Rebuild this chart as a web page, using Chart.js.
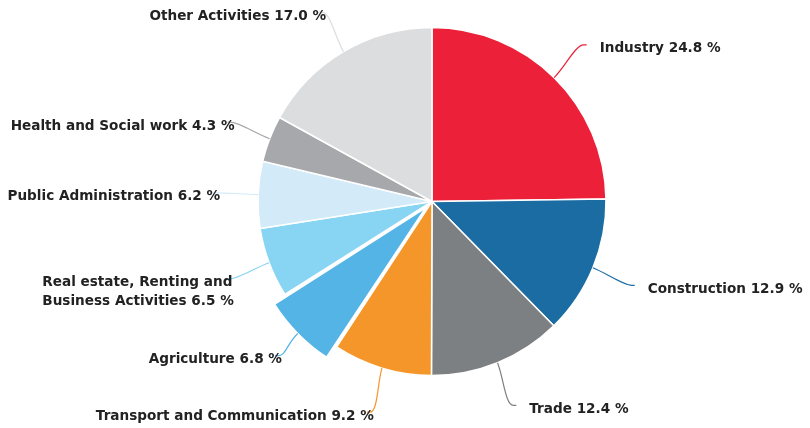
<!DOCTYPE html>
<html>
<head>
<meta charset="utf-8">
<script src="https://cdn.jsdelivr.net/npm/chart.js@4.4.0/dist/chart.umd.min.js"></script>
<style>
html, body { margin: 0; padding: 0; background: #fff; }
#wrap { width: 810px; height: 428px; }
</style>
</head>
<body>
<div id="wrap"><canvas id="chart" width="810" height="428"></canvas></div>
<script>
'use strict';

// employment share by activity, clockwise from 12 o'clock
var categories = [
    'Industry',
    'Construction',
    'Trade',
    'Transport and Communication',
    'Agriculture',
    ['Real estate, Renting and', 'Business Activities'],
    'Public Administration',
    'Health and Social work',
    'Other Activities'
];
var shares = [24.8, 12.9, 12.4, 9.2, 6.8, 6.5, 6.2, 4.3, 17.0];
var sliceColors = [
    '#ec2038', '#1c6ca4', '#7d8083', '#f5962a', '#55b4e6',
    '#87d4f3', '#d3ebf8', '#a7a8ab', '#dcddde'
];
var explodedSlice = 'Agriculture';

/**
 * Draws outside labels with curved connectors, Highcharts style.
 */
var sliceLabels = {
    id: 'sliceLabels',
    afterDatasetsDraw: function(chart, args, opts) {
        var ctx = chart.ctx,
            meta = chart.getDatasetMeta(0),
            values = chart.data.datasets[0].data;

        ctx.save();
        ctx.font = opts.font;
        ctx.textBaseline = 'middle';
        ctx.textAlign = 'left';
        meta.data.forEach(function(arc, i) {
            var p = arc.getProps(['x', 'y', 'startAngle', 'endAngle', 'outerRadius', 'circumference'], true),
                mid = (p.startAngle + p.endAngle) / 2,
                cos = Math.cos(mid),
                sin = Math.sin(mid),
                shift = (arc.options.offset || 0) / 4,
                fix = 1 - Math.sin(Math.min(Math.PI, p.circumference)),
                r0 = p.outerRadius + shift + shift * fix,
                sx = p.x + cos * r0,
                sy = p.y + sin * r0,
                qx = p.x + cos * (r0 + opts.bend),
                qy = p.y + sin * (r0 + opts.bend),
                ex = p.x + cos * opts.distX,
                ey = p.y + sin * opts.distY,
                right = cos >= 0,
                dir = right ? 1 : -1,
                name = chart.data.labels[i],
                lines = Array.isArray(name) ? name.slice() : [name],
                blockW, left;

            lines[lines.length - 1] += ' ' + values[i].toFixed(1) + ' %';
            blockW = Math.max.apply(null, lines.map(function(l) { return ctx.measureText(l).width; }));
            left = right ? ex + opts.padRight : ex + opts.padLeft - blockW;

            ctx.strokeStyle = arc.options.backgroundColor;
            ctx.lineWidth = 1.2;
            ctx.beginPath();
            ctx.moveTo(sx, sy);
            ctx.bezierCurveTo(qx, qy, ex - dir * 8, ey, ex, ey);
            ctx.lineTo(ex + dir * 3, ey);
            ctx.stroke();

            ctx.fillStyle = opts.color;
            lines.forEach(function(line, k) {
                ctx.fillText(line, left, ey + opts.dy + k * opts.lineHeight);
            });
        });
        ctx.restore();
    }
};

var chart = new Chart(document.getElementById('chart'), {
    type: 'pie',
    data: {
        labels: categories,
        datasets: [{
            data: shares,
            backgroundColor: sliceColors,
            borderColor: '#ffffff',
            borderWidth: 1.5,
            offset: categories.map(function(c) { return c === explodedSlice ? 36 : 0; })
        }]
    },
    options: {
        responsive: false,
        animation: false,
        events: [],
        radius: 174,
        layout: { padding: { left: 54, right: 0, top: 0, bottom: 25 } },
        plugins: {
            legend: { display: false },
            tooltip: { enabled: false },
            sliceLabels: {
                font: 'bold 13.6px "DejaVu Sans", Verdana, sans-serif',
                color: '#222222',
                bend: 16,
                distX: 216,
                distY: 220,
                padRight: 16,
                padLeft: 4,
                dy: 4,
                lineHeight: 19
            }
        }
    },
    plugins: [sliceLabels]
});
</script>
</body>
</html>
